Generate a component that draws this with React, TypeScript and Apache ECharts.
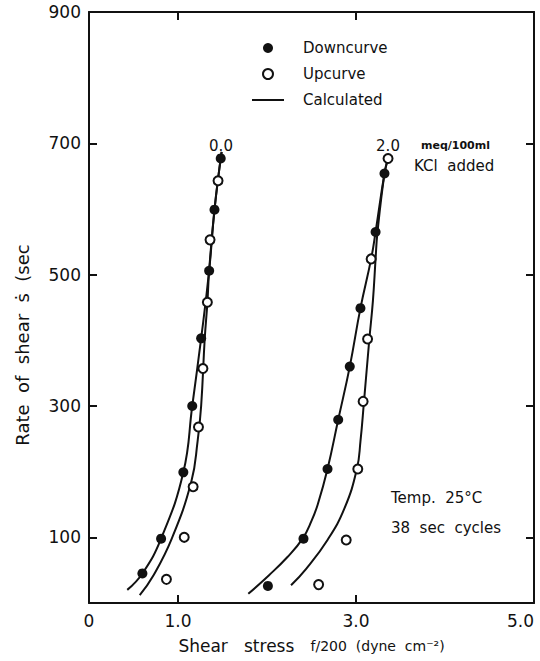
import React, { useEffect, useRef } from "react";
import * as echarts from "echarts";

// ---- data (shear stress f/200, rate of shear) ----
const downLeft: [number, number][] = [
  [0.6, 45], [0.81, 98], [1.06, 199], [1.16, 300], [1.26, 403], [1.35, 506], [1.41, 599], [1.48, 677],
];
const upLeft: [number, number][] = [
  [0.87, 36], [1.07, 100], [1.17, 177], [1.23, 268], [1.28, 357], [1.33, 458], [1.36, 553], [1.45, 643],
];
const downRight: [number, number][] = [
  [2.01, 26], [2.41, 98], [2.68, 204], [2.8, 279], [2.93, 360], [3.05, 449], [3.22, 565], [3.32, 654],
];
const upRight: [number, number][] = [
  [2.58, 28], [2.89, 96], [3.02, 204], [3.08, 307], [3.13, 402], [3.17, 524], [3.36, 677],
];
const calcDownLeft: [number, number][] = [
  [0.43, 20], [0.6, 45], [0.81, 98], [1.06, 199], [1.16, 300], [1.26, 403], [1.35, 506], [1.41, 599], [1.49, 687],
];
const calcUpLeft: [number, number][] = [
  [0.57, 12], [0.72, 41], [0.93, 98], [1.15, 185], [1.22, 246], [1.26, 300], [1.3, 402], [1.33, 457], [1.35, 506], [1.41, 599], [1.49, 687],
];
const calcDownRight: [number, number][] = [
  [1.79, 14], [2.02, 42], [2.23, 70], [2.4, 98], [2.5, 125], [2.57, 150], [2.68, 204], [2.8, 279], [2.93, 360], [3.05, 449], [3.17, 524], [3.22, 565], [3.32, 654], [3.36, 677],
];
const calcUpRight: [number, number][] = [
  [2.27, 27], [2.44, 52], [2.68, 96], [2.87, 144], [3.01, 204], [3.05, 246], [3.09, 307], [3.15, 402], [3.19, 460], [3.22, 524], [3.24, 563], [3.32, 654], [3.36, 677],
];

const xLabelValues = [0, 1, 3, 5];
const xTickValues = [1, 3];
const yLabelValues = [100, 300, 500, 700, 900];
const yTickValues = [100, 300, 500, 700];

const FONT = "DejaVu Sans";
const INK = "#111";

export default function App() {
  const ref = useRef<HTMLDivElement>(null);
  useEffect(() => {
    if (!ref.current) return;
    const chart = echarts.init(ref.current, undefined, { renderer: "svg" });
    const axisLine = { show: true, onZero: false, lineStyle: { color: INK, width: 2 } };
    const tick = (values: number[]) => ({
      show: true,
      inside: false,
      length: -8,
      customValues: values,
      lineStyle: { color: INK, width: 2 },
    });
    const calcLine = (data: [number, number][]) => ({
      type: "line",
      name: "Calculated",
      data,
      smooth: 0.45,
      symbol: "none",
      showSymbol: false,
      lineStyle: { color: INK, width: 2 },
      itemStyle: { color: INK },
      z: 2,
    });
    const scatter = (name: string, data: [number, number][], open: boolean) => ({
      type: "scatter",
      name,
      data,
      symbol: "circle",
      symbolSize: open ? 9 : 10,
      itemStyle: open
        ? { color: "#fff", borderColor: INK, borderWidth: 2, opacity: 1 }
        : { color: INK, borderColor: INK, borderWidth: 0, opacity: 1 },
      z: 3,
    });
    chart.setOption({
      animation: false,
      backgroundColor: "#fff",
      textStyle: { fontFamily: FONT, color: INK },
      grid: { left: 89, right: 6, top: 12, bottom: 58, containLabel: false, outerBoundsMode: "none" },
      legend: {
        left: 247,
        top: 34,
        orient: "vertical",
        itemWidth: 32,
        itemHeight: 10,
        itemGap: 8,
        data: [
          { name: "Downcurve", icon: "circle" },
          { name: "Upcurve", icon: "circle" },
          { name: "Calculated", icon: "path://M0,0H32V2H0Z" },
        ],
        textStyle: { fontFamily: FONT, fontSize: 15, color: INK, lineHeight: 18, padding: [0, 0, 0, 14] },
      },
      xAxis: [
        {
          type: "value",
          min: 0,
          max: 5,
          position: "bottom",
          axisLine,
          splitLine: { show: false },
          axisTick: tick(xTickValues),
          axisLabel: {
            customValues: xLabelValues,
            formatter: (v: number) => (v === 0 ? "0" : v.toFixed(1)),
            fontFamily: FONT,
            fontSize: 17,
            color: INK,
            margin: 9,
            alignMaxLabel: "right",
          },
          name: "Shear   stress   {s|f/200  (dyne  cm⁻²)}",
          nameLocation: "middle",
          nameGap: 34,
          nameTextStyle: {
            fontFamily: FONT,
            fontSize: 17,
            color: INK,
            rich: { s: { fontFamily: FONT, fontSize: 14, color: INK } },
          },
        },
        {
          type: "value",
          min: 0,
          max: 5,
          position: "top",
          axisLine,
          splitLine: { show: false },
          axisTick: tick(xTickValues),
          axisLabel: { show: false },
        },
      ],
      yAxis: [
        {
          type: "value",
          min: 0,
          max: 900,
          position: "left",
          axisLine,
          splitLine: { show: false },
          axisTick: tick(yTickValues),
          axisLabel: { customValues: yLabelValues, fontFamily: FONT, fontSize: 17, color: INK, margin: 8 },
        },
        {
          type: "value",
          min: 0,
          max: 900,
          position: "right",
          axisLine,
          splitLine: { show: false },
          axisTick: tick(yTickValues),
          axisLabel: { show: false },
        },
      ],
      graphic: [
        {
          type: "text",
          x: 22,
          y: 345,
          rotation: Math.PI / 2,
          style: { text: "Rate  of  shear  ṡ  (sec", fontFamily: FONT, fontSize: 18, fill: INK, align: "center", verticalAlign: "middle" },
        },
        { type: "text", x: 221, y: 146, style: { text: "0.0", fontFamily: FONT, fontSize: 15, fill: INK, align: "center", verticalAlign: "middle" } },
        { type: "text", x: 388, y: 146, style: { text: "2.0", fontFamily: FONT, fontSize: 15, fill: INK, align: "center", verticalAlign: "middle" } },
        { type: "text", x: 421, y: 145, style: { text: "meq/100ml", fontFamily: FONT, fontSize: 11, fontWeight: "bold", fill: INK, align: "left", verticalAlign: "middle" } },
        { type: "text", x: 414, y: 166, style: { text: "KCl  added", fontFamily: FONT, fontSize: 15, fill: INK, align: "left", verticalAlign: "middle" } },
        { type: "text", x: 391, y: 498, style: { text: "Temp.  25°C", fontFamily: FONT, fontSize: 15, fill: INK, align: "left", verticalAlign: "middle" } },
        { type: "text", x: 391, y: 528, style: { text: "38  sec  cycles", fontFamily: FONT, fontSize: 15, fill: INK, align: "left", verticalAlign: "middle" } },
      ],
      series: [
        calcLine(calcDownLeft),
        calcLine(calcUpLeft),
        calcLine(calcDownRight),
        calcLine(calcUpRight),
        scatter("Downcurve", downLeft, false),
        scatter("Upcurve", upLeft, true),
        scatter("Downcurve", downRight, false),
        scatter("Upcurve", upRight, true),
      ],
    });
    return () => chart.dispose();
  }, []);
  return <div ref={ref} style={{ position: "fixed", left: 0, top: 0, width: 540, height: 661 }} />;
}
